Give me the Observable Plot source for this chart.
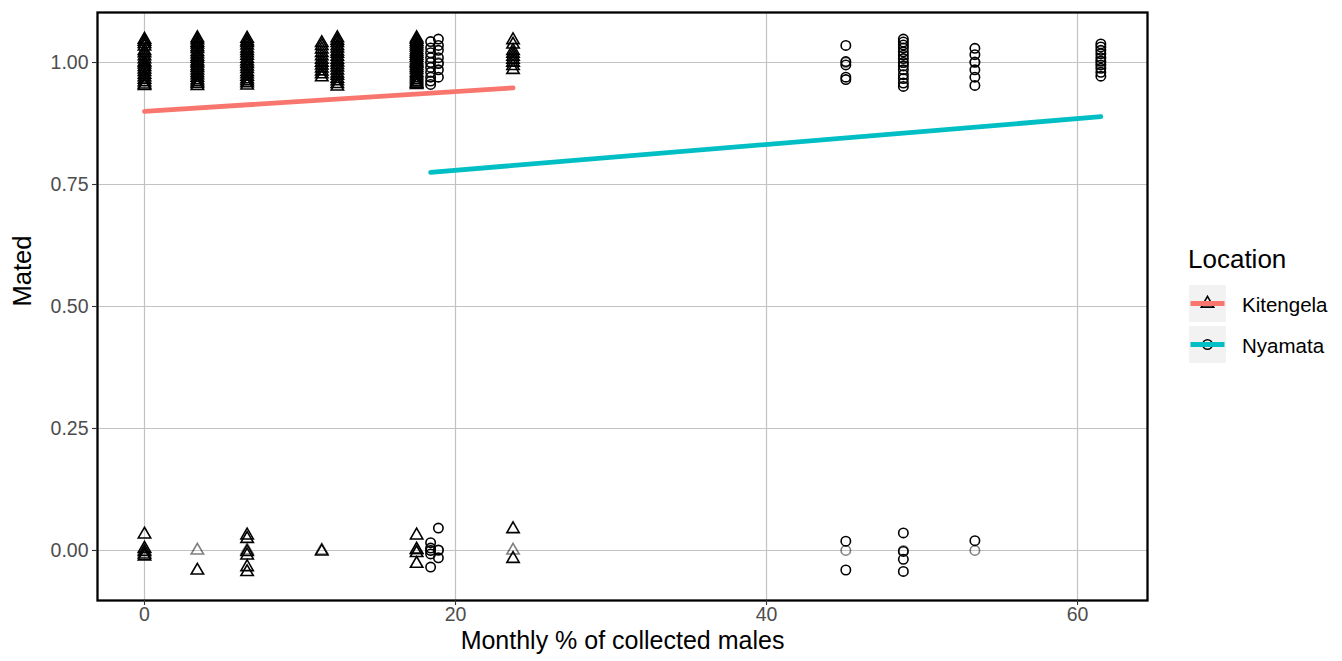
<!DOCTYPE html>
<html><head><meta charset="utf-8">
<script src="https://cdn.jsdelivr.net/npm/d3@7"></script>
<script src="https://cdn.jsdelivr.net/npm/@observablehq/plot@0.6"></script>
<style>
body{margin:0;background:#fff;font-family:"Liberation Sans",Arial,sans-serif;}
#wrap{position:relative;width:1342px;height:661px;overflow:hidden;background:#fff}
</style></head><body><div id="wrap"></div>
<script>
// ---- data ----
const xTicks = [0, 20, 40, 60];
const yTicks = [0, 0.25, 0.5, 0.75, 1];
const xTitle = "Monthly % of collected males";
const yTitle = "Mated";
const legendTitle = "Location";
const locations = ["Kitengela", "Nyamata"];
const locationColors = ["#F8766D", "#00BFC4"];

// Kitengela (triangles): monthly % and jittered "Mated" values per column
const kitengelaPct = [0, 3.4, 6.6, 11.4, 12.4, 17.5, 23.7];
const kitengelaMated1 = [
  [1.047, 1.043, 1.038, 1.033, 1.024, 1.019, 1.013, 1.007, 1.001, 0.996, 0.991, 0.986, 0.981, 0.975, 0.970, 0.965, 0.960, 0.955, 0.952],
  [1.050, 1.046, 1.041, 1.037, 1.032, 1.028, 1.022, 1.017, 1.012, 1.008, 1.003, 0.998, 0.993, 0.989, 0.984, 0.979, 0.974, 0.969, 0.964, 0.960, 0.956, 0.952],
  [1.049, 1.044, 1.040, 1.035, 1.029, 1.024, 1.019, 1.014, 1.008, 1.003, 0.997, 0.992, 0.987, 0.981, 0.976, 0.971, 0.966, 0.962, 0.958, 0.953],
  [1.040, 1.034, 1.027, 1.020, 1.013, 1.006, 1.000, 0.994, 0.988, 0.982, 0.976, 0.970],
  [1.050, 1.045, 1.040, 1.034, 1.029, 1.023, 1.018, 1.012, 1.006, 1.001, 0.995, 0.990, 0.984, 0.978, 0.973, 0.967, 0.962, 0.956, 0.951],
  [1.050, 1.047, 1.043, 1.039, 1.035, 1.031, 1.026, 1.022, 1.018, 1.014, 1.010, 1.005, 1.001, 0.997, 0.993, 0.989, 0.985, 0.980, 0.976, 0.972, 0.968, 0.964, 0.960, 0.957, 0.954],
  [1.046, 1.037, 1.024, 1.018, 1.012, 1.006, 1.000, 0.993, 0.985]
];
const kitengelaMated0 = [
  [0.033, 0.004, -0.003, -0.008, -0.012],
  [-0.041],
  [0.031, 0.024, -0.003, -0.010, -0.034, -0.044],
  [-0.002],
  [],
  [0.031, 0.002, -0.005, -0.027],
  [0.044, -0.017]
];

// Nyamata (circles)
const nyamataPct = [18.4, 18.9, 45.1, 48.8, 53.4, 61.5];
const nyamataMated1 = [
  [1.043, 1.030, 1.020, 1.010, 1.000, 0.990, 0.980, 0.970, 0.962, 0.955],
  [1.048, 1.035, 1.025, 1.010, 0.998, 0.985, 0.970],
  [1.035, 1.002, 0.995, 0.970, 0.965],
  [1.048, 1.042, 1.036, 1.030, 1.022, 1.015, 1.008, 1.000, 0.993, 0.985, 0.975, 0.967, 0.958, 0.951],
  [1.029, 1.016, 1.001, 0.985, 0.970, 0.953],
  [1.038, 1.032, 1.025, 1.018, 1.010, 1.003, 0.995, 0.988, 0.980, 0.972]
];
const nyamataMated0 = [
  [0.016, 0.005, 0.000, -0.007, -0.034],
  [0.046, 0.001, -0.015],
  [0.019, -0.040],
  [0.036, -0.002, -0.018, -0.043],
  [0.020],
  []
];

// fitted lines (end points)
const kitengelaFitPct = [0, 23.7];
const kitengelaFitMated = [0.900, 0.948];
const nyamataFitPct = [18.4, 61.5];
const nyamataFitMated = [0.775, 0.889];

// ---- build tables ----
function buildRows(pct, m1, m0) {
  const jit = [], raw = [];
  pct.forEach((x, i) => {
    if (m1[i].length) { raw.push({x, y: 1}); m1[i].forEach(y => jit.push({x, y})); }
    if (m0[i].length) { raw.push({x, y: 0}); m0[i].forEach(y => jit.push({x, y})); }
  });
  return {jit, raw};
}
const kit = buildRows(kitengelaPct, kitengelaMated1, kitengelaMated0);
const nya = buildRows(nyamataPct, nyamataMated1, nyamataMated0);
const kitFit = kitengelaFitPct.map((x, i) => ({x, y: kitengelaFitMated[i]}));
const nyaFit = nyamataFitPct.map((x, i) => ({x, y: nyamataFitMated[i]}));

const font = "Liberation Sans, Arial, sans-serif";
const gridStyle = {stroke: "#c2c2c2", strokeOpacity: 1, strokeWidth: 1.2};
const ptStyle = {x: "x", y: "y", fill: "none", stroke: "black", strokeWidth: 1.6};
const triR = 4.6, circR = 4.7;

const chart = Plot.plot({
  width: 1342, height: 661,
  marginLeft: 97, marginRight: 195, marginTop: 12, marginBottom: 61,
  style: {fontFamily: font, background: "white", overflow: "visible"},
  x: {domain: [-3.022, 64.5]},
  y: {domain: [-0.1025, 1.1025]},
  marks: [
    Plot.gridX(xTicks, gridStyle),
    Plot.gridY(yTicks, gridStyle),
    Plot.dot(kit.raw, {...ptStyle, symbol: "triangle", r: triR, strokeOpacity: 0.5}),
    Plot.dot(nya.raw, {...ptStyle, symbol: "circle", r: circR, strokeOpacity: 0.5}),
    Plot.dot(kit.jit, {...ptStyle, symbol: "triangle", r: triR}),
    Plot.dot(nya.jit, {...ptStyle, symbol: "circle", r: circR}),
    Plot.line(kitFit, {x: "x", y: "y", stroke: locationColors[0], strokeWidth: 4.8}),
    Plot.line(nyaFit, {x: "x", y: "y", stroke: locationColors[1], strokeWidth: 4.8}),
    Plot.frame({stroke: "black", strokeWidth: 2.3}),
    Plot.axisX(xTicks, {tickSize: 5, tickPadding: 2, fontSize: 19.5, stroke: "#333", fill: "#4d4d4d", strokeWidth: 1.1, label: null}),
    Plot.axisY(yTicks, {tickSize: 5, tickPadding: 4, fontSize: 19.5, stroke: "#333", fill: "#4d4d4d", strokeWidth: 1.1, tickFormat: d3.format(".2f"), label: null}),
    Plot.text([xTitle], {text: d => d, frameAnchor: "bottom", dy: 48, fontSize: 25, fill: "black"}),
    Plot.text([yTitle], {text: d => d, frameAnchor: "left", dx: -75, rotate: -90, fontSize: 25.5, fill: "black"})
  ]
});
document.getElementById("wrap").appendChild(chart);

// ---- legend ----
const leg = d3.select("#wrap").append("svg")
  .attr("width", 160).attr("height", 140)
  .style("position", "absolute").style("left", "1182px").style("top", "240px")
  .style("font-family", font);
leg.append("text").attr("x", 6).attr("y", 28).attr("font-size", 26).attr("fill", "black").text(legendTitle);
const symbols = [d3.symbolTriangle, d3.symbolCircle];
const symR = [triR, circR];
locations.forEach((loc, i) => {
  const top = 45 + i * 41;
  const g = leg.append("g");
  g.append("rect").attr("x", 7).attr("y", top).attr("width", 37).attr("height", 37).attr("fill", "#f2f2f2");
  g.append("path").attr("d", d3.symbol(symbols[i], Math.PI * symR[i] * symR[i])())
    .attr("transform", `translate(25.5,${top + 18.5})`)
    .attr("fill", "none").attr("stroke", "black").attr("stroke-width", 1.6);
  g.append("line").attr("x1", 8.5).attr("x2", 42.5).attr("y1", top + 18.5).attr("y2", top + 18.5)
    .attr("stroke", locationColors[i]).attr("stroke-width", 4.8);
  g.append("text").attr("x", 60).attr("y", top + 20).attr("dy", "0.35em")
    .attr("font-size", 20.5).attr("fill", "black").text(loc);
});
</script>
</body></html>
